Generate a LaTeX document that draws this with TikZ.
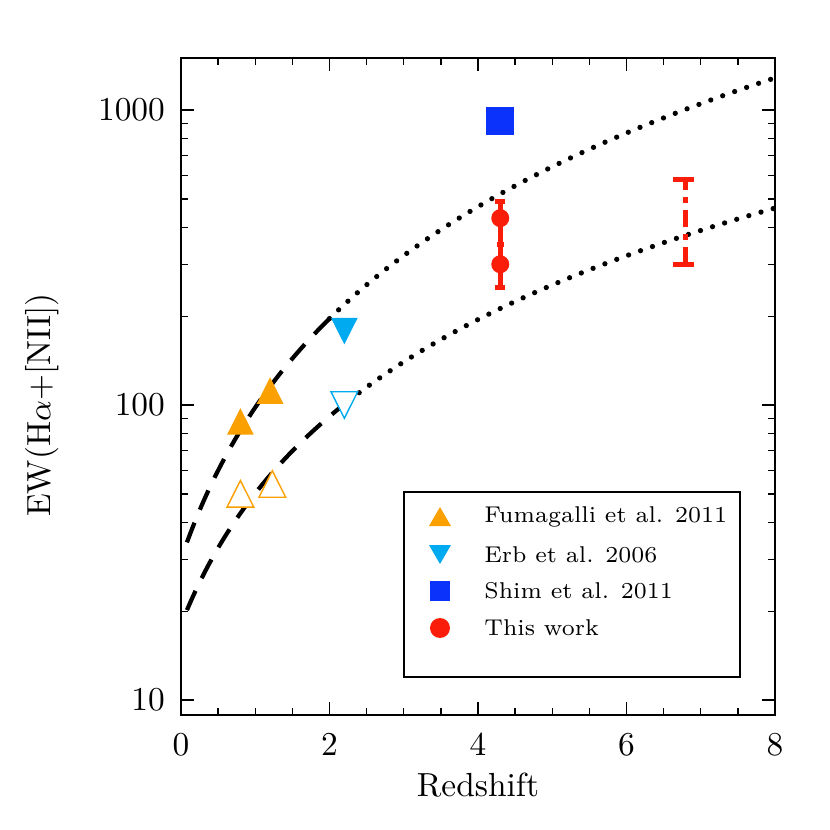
\documentclass[tikz,border=0pt]{standalone}
\usetikzlibrary{calc}
\begin{document}
\begin{tikzpicture}[x=1cm,y=1cm,
  lbl/.style={font=\fontsize{9.5}{11}\selectfont},
  leg/.style={font=\fontsize{6.5}{8}\selectfont,anchor=west}]
\useasboundingbox (0,0) rectangle (8.3,8.3);
\definecolor{myblue}{RGB}{10,50,250}
\definecolor{myred}{RGB}{250,30,10}
\definecolor{myora}{RGB}{250,160,0}
\definecolor{mycy}{RGB}{0,170,240}
\begin{scope}[shift={(1.81,1.30)},x=0.7425cm,y=2.95cm]
 \draw[line width=0.5pt] (0,-0.051) rectangle (8,2.176);
 \foreach \z in {0,2,4,6,8}{
   \draw (\z,-0.051) -- ++(0,0.045) (\z,2.176) -- ++(0,-0.045);
   \node[lbl,below] at (\z,-0.07) {\z};}
 \foreach \z in {0.5,1,...,7.5}{
   \draw (\z,-0.051) -- ++(0,0.024) (\z,2.176) -- ++(0,-0.024);}
 \foreach \d/\t in {0/10,1/100,2/1000}{
   \draw (0,\d) -- ++(0.17,0) (8,\d) -- ++(-0.17,0);
   \node[lbl,left] at (-0.05,\d) {\t};}
 \foreach \d in {0,1,2}{\foreach \m in {2,...,9}{
   \pgfmathsetmacro\yy{\d+log10(\m)}
   \pgfmathparse{\yy<2.176?1:0}
   \ifnum\pgfmathresult=1 \draw (0,\yy) -- ++(0.09,0) (8,\yy) -- ++(-0.09,0);\fi}}
 \draw[dash pattern=on 6pt off 4pt,line width=1.2pt,domain=0.08:2,samples=40]
   plot (\x,{log10(30*(1+\x)^1.71)-1});
 \draw[dash pattern=on 0pt off 3.6pt,line width=1.5pt,line cap=round,domain=2:8,samples=60]
   plot (\x,{log10(30*(1+\x)^1.71)-1});
 \draw[dash pattern=on 6pt off 4pt,line width=1.2pt,domain=0.08:2.4,samples=40]
   plot (\x,{log10(18*(1+\x)^1.48)-1});
 \draw[dash pattern=on 0pt off 3.6pt,line width=1.5pt,line cap=round,domain=2.4:8,samples=60]
   plot (\x,{log10(18*(1+\x)^1.48)-1});
 \foreach \z/\v in {0.8/88,1.2/112}{
   \fill[myora] ($(\z,{log10(\v)-1})+(0,0.045)$) -- ++(-0.18,-0.09) -- ++(0.36,0) -- cycle;}
 \foreach \z/\v in {0.8/50,1.23/54}{
   \draw[myora,fill=white] ($(\z,{log10(\v)-1})+(0,0.045)$) -- ++(-0.18,-0.09) -- ++(0.36,0) -- cycle;}
 \fill[mycy] ($(2.2,{log10(178)-1})+(0,-0.045)$) -- ++(-0.18,0.09) -- ++(0.36,0) -- cycle;
 \draw[mycy,fill=white] ($(2.2,{log10(100)-1})+(0,-0.045)$) -- ++(-0.18,0.09) -- ++(0.36,0) -- cycle;
 \fill[myblue] ($(4.3,{log10(920)-1})+(-0.14cm,-0.14cm)$) rectangle ++(0.28cm,0.28cm);
 \draw[myred,line width=1.4pt] (4.3,{log10(250)-1}) -- (4.3,{log10(490)-1});
 \draw[myred,line width=1.4pt] (4.23,{log10(250)-1}) -- ++(0.14,0) (4.23,{log10(490)-1}) -- ++(0.14,0);
 \draw[myred,line width=1.4pt] (4.25,{log10(350)-1}) -- ++(0.1,0);
 \fill[myred] (4.3,{log10(430)-1}) circle (0.09cm) (4.3,{log10(300)-1}) circle (0.09cm);
 \draw[myred,line width=1.4pt,dash pattern=on 5pt off 2pt on 1.5pt off 2pt] (6.8,{log10(300)-1}) -- (6.8,{log10(580)-1});
 \draw[myred,line width=1.4pt,dash pattern=on 6pt off 2pt on 1.5pt off 2pt] (6.62,{log10(300)-1}) -- ++(0.36,0) (6.62,{log10(580)-1}) -- ++(0.36,0);
\end{scope}
\draw[line width=0.5pt] (4.04,8.3-4.92) rectangle (7.40,8.3-6.77);
\fill[myora] (4.40,8.3-5.07) -- ++(-0.11,-0.19) -- ++(0.22,0) -- cycle;
\node[leg] at (4.72,8.3-5.17) {Fumagalli et al. 2011};
\fill[mycy] (4.40,8.3-5.64) -- ++(-0.11,0.19) -- ++(0.22,0) -- cycle;
\node[leg] at (4.72,8.3-5.55) {Erb et al. 2006};
\fill[myblue] (4.30,8.3-6.01) rectangle ++(0.2,0.2);
\node[leg] at (4.72,8.3-5.91) {Shim et al. 2011};
\fill[myred] (4.40,8.3-6.28) circle (0.1);
\node[leg] at (4.72,8.3-6.28) {This work};
\node[lbl] at (4.78,8.3-7.85) {Redshift};
\node[lbl,rotate=90] at (0.42,8.3-4.05) {EW(H$\alpha$+[NII])};
\end{tikzpicture}
\end{document}
